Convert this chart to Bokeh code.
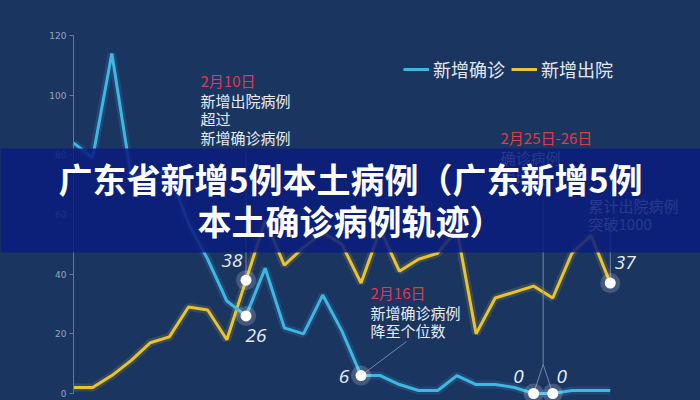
from bokeh.plotting import figure
from bokeh.models import (Range1d, Label, Legend, LegendItem, BoxAnnotation,
                          ColumnDataSource, FixedTicker)
from bokeh.core.properties import value
from bokeh.embed import file_html
from bokeh.resources import INLINE

# ---------------- data ----------------
days = list(range(1, 30))            # 2020-02-01 .. 2020-02-29
confirmed = [84, 79, 114, 73, 74, 74, 57, 45, 31, 26, 42, 22, 20, 33, 21,
             6, 6, 3, 1, 1, 6, 3, 3, 2, 0, 0, 1, 1, 1]
discharged = [2, 2, 6, 11, 17, 19, 29, 28, 18, 38, 58, 43, 49, 54, 50,
              37, 55, 41, 45, 47, 55, 20, 32, 34, 36, 32, 47, 53, 37]
y_ticks = [0, 20, 40, 60, 80, 100, 120]
series_names = ["新增确诊", "新增出院"]
title_lines = ["广东省新增5例本土病例（广东新增5例", "本土确诊病例轨迹）"]
conf_marked_days = [10, 16, 25, 26]
dis_marked_days = [10, 29]
note_0210 = ["2月10日", "新增出院病例", "超过", "新增确诊病例"]
note_0216 = ["2月16日", "新增确诊病例", "降至个位数"]
note_0225 = ["2月25日-26日", "确诊病例", "零增长"]
note_total = ["累计出院病例", "突破1000"]

# ---------------- geometry ----------------
W, H = 700, 400
AXIS_PX = 73                 # pixel x of the first day / y axis
PX_DAY = 19.17
X0 = days[0]
ZERO_PX = 393                # pixel y of value 0
SCALE = (ZERO_PX - 35) / 120.0


def ix(px):   # pixel x -> data x
    return X0 + (px - AXIS_PX) / PX_DAY


def iy(py):   # pixel y -> data y
    return (ZERO_PX - py) / SCALE


BG = "#1b3561"
BLUE = "#40b7e3"
YELLOW = "#e8c42e"
WHITE = "#e7edf4"
RED = "#dc3b50"
GUIDE = "#8394b0"
CJK = "Noto Sans CJK SC"

p = figure(width=W, height=H, x_range=Range1d(ix(0), ix(W)),
           y_range=Range1d(iy(H), iy(0)), output_backend="svg",
           toolbar_location=None, x_axis_location=None,
           min_border_left=0, min_border_right=0, min_border_top=0,
           min_border_bottom=0)
p.background_fill_color = BG
p.border_fill_color = BG
p.outline_line_color = None
p.xgrid.visible = False
p.ygrid.visible = False

ax = p.yaxis[0]
ax.fixed_location = X0
ax.ticker = FixedTicker(ticks=y_ticks)
ax.bounds = (y_ticks[0], y_ticks[-1])
ax.axis_line_color = "#62789b"
ax.major_tick_line_color = "#62789b"
ax.major_tick_out = 4
ax.major_tick_in = 0
ax.minor_tick_line_color = None
ax.major_label_text_color = "#98a6be"
ax.major_label_text_font = "DejaVu Sans"
ax.major_label_text_font_size = "9px"
ax.major_label_standoff = 3

src = ColumnDataSource(dict(day=days, conf=confirmed, dis=discharged))

# glow + lines
p.line("day", "dis", source=src, line_color=YELLOW, line_width=8, line_alpha=0.15)
yl = p.line("day", "dis", source=src, line_color=YELLOW, line_width=3)
p.line("day", "conf", source=src, line_color=BLUE, line_width=8, line_alpha=0.15)
bl = p.line("day", "conf", source=src, line_color=BLUE, line_width=3)

# leader lines
d10 = days.index(10)
d16 = days.index(16)
d25, d26 = days.index(25), days.index(26)
d29 = days.index(29)
gx0 = [10, ix(406), 25.5, 25.5, 25.5, 29]
gy0 = [iy(150), iy(341), iy(200), iy(364), iy(364), iy(232)]
gx1 = [10, 16, 25.5, 25, 26, 29]
gy1 = [discharged[d10], confirmed[d16], iy(364), confirmed[d25],
       confirmed[d26], discharged[d29]]
p.segment(gx0, gy0, gx1, gy1, line_color=GUIDE, line_width=1, line_alpha=0.85)

# marked points
mx = conf_marked_days + dis_marked_days
my = [confirmed[days.index(d)] for d in conf_marked_days] + \
     [discharged[days.index(d)] for d in dis_marked_days]
p.scatter(mx, my, size=20, fill_color="white", fill_alpha=0.18, line_color=None)
p.scatter(mx, my, size=11, fill_color="white", line_color=None)

# value labels
lab_dx = [10, -17, -15, 9, -14, 15]
lab_dy = [20, 1, -17, -17, -20, -21]
p.text(mx, my, text=[str(v) for v in my], x_offset=lab_dx, y_offset=lab_dy,
       text_font=value("Open Sans"), text_font_style="italic",
       text_font_size="19px", text_color=WHITE, text_align="center",
       text_baseline="middle")


# annotation notes
def note(lines, left_px, ys_px, first_red=True):
    colors = ([RED] if first_red else [WHITE]) + [WHITE] * (len(lines) - 1)
    p.text([ix(left_px)] * len(lines), [iy(v) for v in ys_px], text=lines,
           text_font=value(CJK), text_font_size="15px", text_color=colors,
           text_align="left", text_baseline="middle")


note(note_0210, 200, [80, 100, 118, 137])
note(note_0216, 370, [292, 312, 330])
note(note_0225, 500, [137, 157, 177])
note(note_total, 588, [205, 223], first_red=False)

legend = Legend(items=[LegendItem(label=series_names[0], renderers=[bl]),
                       LegendItem(label=series_names[1], renderers=[yl])],
                location=(403, 318), orientation="horizontal",
                background_fill_alpha=0, border_line_color=None,
                label_text_color="#e3e9f0", label_text_font=CJK,
                label_text_font_size="18px", glyph_width=26, glyph_height=20,
                label_height=20, label_standoff=4, spacing=6, padding=0,
                margin=0)
p.add_layout(legend)

# title banner
banner = BoxAnnotation(top=iy(148), bottom=iy(252), fill_color="#0a1d7d",
                       fill_alpha=0.87, line_color=None, level="overlay")
p.add_layout(banner)
for txt, ypx in zip(title_lines, [178, 220]):
    p.add_layout(Label(x=ix(350), y=iy(ypx), text=txt, text_align="center",
                       text_baseline="middle", text_font=CJK,
                       text_font_style="bold", text_font_size="34px",
                       text_color="white", level="overlay"))

html = file_html(p, INLINE, title="广东新增确诊与出院")
html = html.replace("</head>", "<style>html,body{background:%s;}</style></head>" % BG, 1)
open("out.html", "w").write(html)
